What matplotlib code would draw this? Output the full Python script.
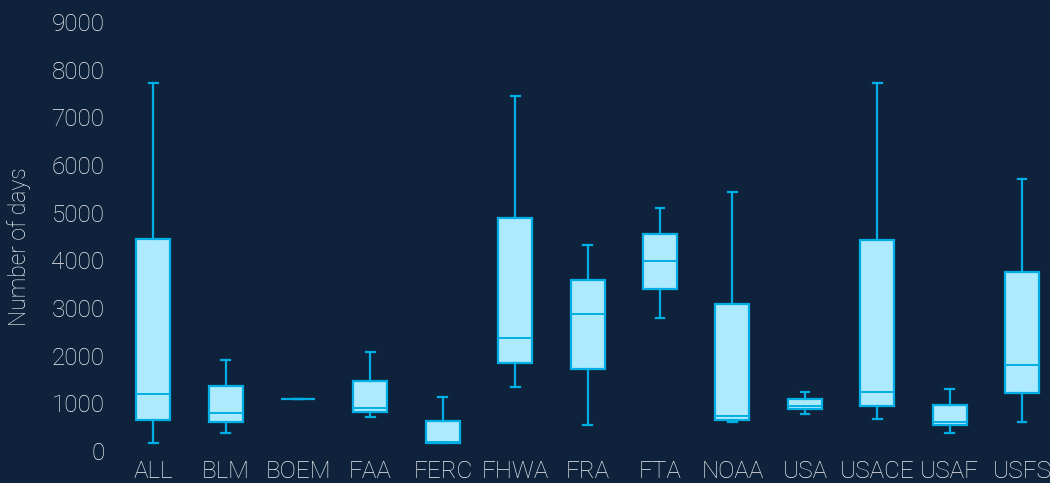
import matplotlib.pyplot as plt

plt.rcParams['font.family'] = ['Roboto', 'DejaVu Sans']
plt.rcParams['font.weight'] = 'light'

agencies = ['ALL', 'BLM', 'BOEM', 'FAA', 'FERC', 'FHWA', 'FRA', 'FTA',
            'NOAA', 'USA', 'USACE', 'USAF', 'USFS']
whislo = [160, 370, 1085, 715, 170, 1335, 550, 2790, 610, 775, 670, 385, 610]
q1 = [655, 600, 1085, 825, 170, 1840, 1715, 3390, 650, 880, 935, 545, 1215]
med = [1190, 800, 1085, 910, 180, 2365, 2875, 3985, 740, 950, 1245, 615, 1805]
q3 = [4450, 1370, 1085, 1470, 630, 4880, 3595, 4545, 3090, 1085, 4435, 965, 3760]
whishi = [7725, 1910, 1085, 2070, 1125, 7450, 4315, 5100, 5435, 1245, 7725, 1300, 5715]

bg = '#0e233b'
edge = '#00aee6'
fill = '#aeeafd'
txt = '#eef1f4'

stats = [dict(label=a, whislo=lo, q1=b, med=m, q3=t, whishi=hi, fliers=[])
         for a, lo, b, m, t, hi in zip(agencies, whislo, q1, med, q3, whishi)]

fig = plt.figure(figsize=(10.5, 4.83), dpi=100, facecolor=bg)
ax = fig.add_axes([0.1114, 0.0366, 0.8896, 0.9474], facecolor=bg)

ax.bxp(stats, positions=range(len(agencies)), widths=0.47, capwidths=0.12,
       patch_artist=True, showfliers=False,
       boxprops=dict(facecolor=fill, edgecolor=edge, linewidth=1.6),
       medianprops=dict(color=edge, linewidth=1.4),
       whiskerprops=dict(color=edge, linewidth=1.6),
       capprops=dict(color=edge, linewidth=1.6))

ax.set_xlim(-0.5, 12.4)
ax.set_ylim(-300, 9300)
ax.set_yticks(range(0, 9001, 1000))
ax.set_xticks(range(len(agencies)), agencies)
for s in ax.spines.values():
    s.set_visible(False)
ax.tick_params(length=0, colors=txt, labelsize=17.5)
ax.tick_params(axis='x', pad=-4)
ax.tick_params(axis='y', pad=9)
ax.set_ylabel('Number of days', color=txt, fontsize=16.5, fontweight='light',
              labelpad=15)
ax.yaxis.label.set_y(0.477)

plt.savefig('out.png', dpi=100, facecolor=bg)
